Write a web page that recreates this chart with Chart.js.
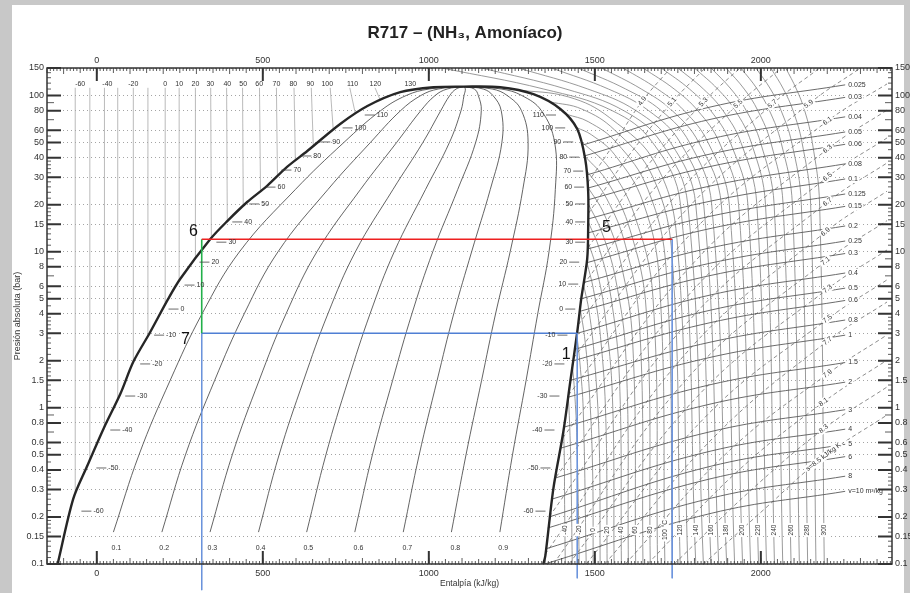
<!DOCTYPE html>
<html>
<head>
<meta charset="utf-8">
<script src="https://cdn.jsdelivr.net/npm/chart.js@4.4.1/dist/chart.umd.min.js"></script>
<style>
  html, body { margin: 0; padding: 0; background: #c8c8c8; }
</style>
</head>
<body>
<canvas id="ph" width="910" height="593"></canvas>
<script>
// axis ticks
const enthalpyTicks = [0, 500, 1000, 1500, 2000];
const pressureTicks = [0.1, 0.15, 0.2, 0.3, 0.4, 0.5, 0.6, 0.8, 1, 1.5, 2, 3, 4, 5, 6, 8, 10, 15, 20, 30, 40, 50, 60, 80, 100, 150];

// saturation dome [h kJ/kg, p bar]
const satLiquid = [[-118,0.1],[-71,0.261],[-30,0.419],[20,0.733],[71,1.23],[110,1.97],[161,3.06],[215,4.98],[251,6.68],[342,12.05],[393,15.7],[453,20.8],[513,26.4],[573,34.9],[634,44.1],[733,65.7],[815,85.6],[914,105],[1014,113],[1105,114]];
const satVapor = [[1215,113],[1315,102],[1396,82],[1447,61],[1471,39.2],[1480,24.1],[1480,14.6],[1477,8.98],[1459,4.98],[1447,3.06],[1426,1.47],[1405,0.70],[1375,0.303],[1351,0.113],[1345,0.1]];

// vapour quality lines
const qualityLevels = ['0.1','0.2','0.3','0.4','0.5','0.6','0.7','0.8','0.9'];
const qualityP = [0.16, 0.5, 1.5, 4, 10, 25, 50, 80, 100, 110, 114];
const qualityH = [
  [50,127,221,317,430,598,744,855,932,1001,1105],
  [196,267,355,444,546,696,824,915,976,1028,1105],
  [341,408,489,570,663,794,903,976,1019,1055,1105],
  [487,549,623,696,779,892,982,1036,1063,1082,1105],
  [632,690,757,823,896,990,1062,1097,1106,1110,1105],
  [777,830,891,949,1012,1087,1141,1158,1149,1137,1105],
  [923,971,1025,1075,1129,1185,1220,1218,1193,1164,1105],
  [1068,1112,1159,1201,1245,1283,1299,1279,1236,1191,1105],
  [1214,1252,1293,1328,1362,1381,1379,1339,1280,1218,1105]
];
const qualityLabelH = [59, 203, 348, 493, 637, 788, 935, 1080, 1224];

// liquid isotherms [T, h at dome, p at dome, h at top]
const liquidIsotherms = [[-60,-65,0.28,-65],[-50,-21,0.46,-21],[-40,23,0.76,23],[-30,63,1.15,63],[-20,110,1.97,110],[-10,154,2.9,154],[0,206,4.6,206],[10,248,6.5,248],[20,297,9.0,297],[30,345,12.2,343],[40,393,15.7,391],[50,441,19.8,439],[60,493,24.5,490],[70,544,30.7,541],[80,598,38.5,594],[90,652,48,646],[100,712,61,703],[110,779,76,762],[120,854,93,838]];
const liquidLabels = [[-60,-50],[-40,32],[-20,110],[0,206],[10,248],[20,297],[30,342],[40,393],[50,441],[60,489],[70,541],[80,592],[90,643],[100,694],[110,770],[120,839],[130,944]];

// superheated isotherms, subcritical part [T, [[h,p],...]]
const vaporIsotherms = [
  [-40, [[1411,0.1],[1409,0.24],[1408,0.48],[1406,0.717]]],
  [-30, [[1432,0.1],[1428,0.4],[1424,0.8],[1420,1.195]]],
  [-20, [[1453,0.1],[1446,0.63],[1439,1.27],[1432,1.9]]],
  [-10, [[1474,0.1],[1465,0.97],[1455,1.94],[1446,2.91]]],
  [0,   [[1495,0.1],[1493,0.43],[1482,1.43],[1469,2.86],[1456,4.29]]],
  [10,  [[1516,0.1],[1513,0.615],[1499,2.05],[1483,4.1],[1466,6.15]]],
  [20,  [[1537,0.1],[1533,0.857],[1517,2.86],[1496,5.71],[1476,8.57]]],
  [30,  [[1558,0.1],[1553,1.17],[1531,3.89],[1505,7.78],[1479,11.67]]],
  [40,  [[1580,0.1],[1574,1.55],[1548,5.18],[1514,10.37],[1480,15.55]]],
  [50,  [[1601,0.1],[1594,2.03],[1562,6.77],[1520,13.5],[1480,20.3]]],
  [60,  [[1623,0.1],[1614,2.61],[1577,8.7],[1528,17.4],[1478,26.1]]],
  [70,  [[1645,0.1],[1635,3.31],[1592,11],[1535,22],[1475,33.1]]],
  [80,  [[1667,0.1],[1655,4.14],[1606,13.8],[1540,27.6],[1468,41.4]]],
  [90,  [[1689,0.1],[1675,5.11],[1620,17],[1545,34],[1458,51.1]]],
  [100, [[1711,0.1],[1695,6.25],[1645,20.8],[1560,41.7],[1490,56],[1444,62.5]]],
  [110, [[1734,0.1],[1715,7.58],[1660,25],[1565,50],[1480,68],[1415,75.8]]],
  [120, [[1757,0.1],[1733,9.11],[1675,30],[1560,60],[1460,82],[1365,91.1]]],
  [130, [[1780,0.1],[1749,10.9],[1685,36],[1545,72],[1420,98],[1260,108.9]]]
];

// supercritical isotherms, h at superP
const superP = [0.1, 20, 50, 80, 110, 150];
const superT = [140,150,160,170,180,190,200,210,220,230,240,250,260,270,280,290,300];
const superH = [
  [1804,1758,1674,1552,1346,1040],
  [1827,1780,1700,1587,1413,1160],
  [1850,1804,1728,1624,1479,1270],
  [1873,1828,1757,1662,1541,1370],
  [1897,1852,1785,1700,1593,1450],
  [1921,1881,1813,1733,1640,1520],
  [1945,1905,1841,1769,1689,1585],
  [1969,1933,1875,1810,1739,1645],
  [1993,1961,1908,1849,1785,1700],
  [2017,1988,1940,1886,1827,1750],
  [2041,2014,1971,1923,1870,1800],
  [2066,2040,1999,1956,1910,1850],
  [2091,2067,2030,1991,1950,1895],
  [2116,2095,2061,2026,1989,1940],
  [2141,2122,2093,2061,2029,1985],
  [2166,2150,2124,2097,2068,2030],
  [2191,2177,2155,2132,2107,2075]
];

// isochores (m3/kg)
const isochoreV = ['0.025','0.03','0.04','0.05','0.06','0.08','0.1','0.125','0.15','0.2','0.25','0.3','0.4','0.5','0.6','0.8','1','1.5','2','3','4','5','6','8','v=10 m³/kg'];
const isochorePts = [
  [[1461,48],[1850,84.6],[2254,117]],
  [[1468,41],[1850,70.5],[2254,97.3]],
  [[1476,31],[1850,52.9],[2254,73]],
  [[1478,25.5],[1850,42.3],[2254,58.4]],
  [[1480,21.5],[1850,35.2],[2254,48.7]],
  [[1480,16.2],[1850,26.4],[2254,36.5]],
  [[1480,13.2],[1850,21.1],[2254,29.2]],
  [[1478,10.4],[1850,16.9],[2254,23.4]],
  [[1476,8.5],[1850,14.1],[2254,19.5]],
  [[1467,6.35],[1850,10.6],[2254,14.6]],
  [[1460,5.0],[1850,8.46],[2254,11.7]],
  [[1455,4.15],[1850,7.05],[2254,9.73]],
  [[1447,3.0],[1850,5.29],[2254,7.3]],
  [[1440,2.37],[1850,4.23],[2254,5.84]],
  [[1434,2.0],[1850,3.52],[2254,4.87]],
  [[1426,1.5],[1850,2.64],[2254,3.65]],
  [[1420,1.17],[1850,2.11],[2254,2.92]],
  [[1405,0.75],[1850,1.41],[2254,1.95]],
  [[1395,0.55],[1850,1.06],[2254,1.46]],
  [[1380,0.355],[1850,0.705],[2254,0.973]],
  [[1370,0.26],[1850,0.529],[2254,0.73]],
  [[1362,0.2],[1850,0.423],[2254,0.584]],
  [[1358,0.17],[1850,0.352],[2254,0.487]],
  [[1352,0.125],[1850,0.264],[2254,0.365]],
  [[1349,0.1],[1850,0.211],[2254,0.292]]
];

// isentropes (kJ/kg K), third point is where the label sits
const isentropeS = ['4.9','5.1','5.3','5.5','5.7','5.9','6.1','6.3','6.5','6.7','6.9','7.1','7.3','7.5','7.7','7.9','8.1','8.3','s=8.5 kJ/kg K'];
const isentropePts = [
  [[1478,27.5],[1560,49.9],[1643,92.2],[1728,150]],
  [[1480,17.5],[1600,40.6],[1733,90.8],[1832,150]],
  [[1479,10.6],[1650,33.7],[1827,90.8],[1937,150]],
  [[1466,6.15],[1700,28.6],[1932,88.2],[2062,150]],
  [[1450,3.4],[1740,22.4],[2035,88.2],[2177,150]],
  [[1435,2.07],[1780,19],[2144,88.2],[2300,150]],
  [[1420,1.2],[1800,13.8],[2201,68.7],[2380,118.6]],
  [[1403,0.64],[1800,8.6],[2201,45.4],[2380,80.7]],
  [[1383,0.36],[1790,5.5],[2201,30.1],[2380,53.5]],
  [[1362,0.2],[1780,3.54],[2201,20.8],[2380,37]],
  [[1350,0.115],[1770,2.18],[2195,13.4],[2380,24.4]],
  [[1375,0.1],[1785,1.6],[2195,8.7],[2380,15.8]],
  [[1422,0.1],[1810,1.19],[2201,5.77],[2380,10.25]],
  [[1474,0.1],[1840,0.906],[2201,3.71],[2380,6.6]],
  [[1530,0.1],[1865,0.67],[2201,2.68],[2380,4.76]],
  [[1592,0.1],[1900,0.52],[2201,1.65],[2380,2.93]],
  [[1659,0.1],[1925,0.384],[2189,1.09],[2380,2.02]],
  [[1739,0.1],[1965,0.29],[2189,0.733],[2380,1.36]],
  [[1827,0.1],[2010,0.224],[2189,0.485],[2380,0.9]]
];

// temperature labels next to the dome [T, h, p]
const domeLabelsLiquid = [[-60,5,0.218],[-50,50,0.412],[-40,92,0.721],[-30,137,1.19],[-20,182,1.91],[-10,224,2.92],[0,258,4.29],[10,312,6.11],[20,357,8.57],[30,408,11.5],[40,456,15.5],[50,507,20.2],[60,556,25.9],[70,604,33.3],[80,664,41],[90,721,50.4],[100,794,62],[110,860,75]];
const domeLabelsVapor = [[110,1330,75],[100,1357,62],[90,1387,50.4],[80,1405,40.3],[70,1417,32.8],[60,1420,25.9],[50,1423,20.2],[40,1423,15.5],[30,1423,11.5],[20,1405,8.57],[10,1402,6.2],[0,1399,4.29],[-10,1366,2.92],[-20,1357,1.91],[-30,1342,1.19],[-40,1327,0.721],[-50,1315,0.412],[-60,1300,0.218]];

// refrigeration cycle
const cycleCondenser = [[316,12.0],[1733,12.0]];
const cycleExpansion = [[316,12.0],[316,3.0]];
const cycleEvaporator = [[316,3.0],[1447,3.0]];
const cycleDrops = [
  [[316,3.0],[316,0.068]],
  [[1447,3.0],[1447,0.081]],
  [[1733,12.0],[1733,0.081]]
];
const cyclePoints = [['6',291,13.35],['5',1535,14.2],['7',267,2.72],['1',1414,2.18]];

const FONT = '"Liberation Sans", Arial, sans-serif';
const datasets = [];
function addLine(pts, color, width, extra) {
  datasets.push(Object.assign({
    data: pts.map(([h, p]) => ({x: h, y: p})),
    showLine: true, borderColor: color, borderWidth: width,
    pointRadius: 0, tension: 0.4, fill: false
  }, extra || {}));
}

liquidIsotherms.forEach(([t, hb, pb, ht]) => addLine([[hb, pb], [ht, 112]], '#a8a8a8', 0.8, {order: 9, tension: 0}));
vaporIsotherms.forEach(([t, pts]) => addLine(pts, '#808080', 0.8, {order: 8}));
superH.forEach(hs => addLine(hs.map((h, i) => [h, superP[i]]), '#808080', 0.8, {order: 8}));
isochorePts.forEach(pts => addLine(pts, '#5a5a5a', 0.9, {order: 7}));
isentropePts.forEach(pts => addLine(pts, '#707070', 0.8, {order: 7, borderDash: [4, 3]}));
qualityH.forEach(hs => addLine(hs.map((h, i) => [h, qualityP[i]]), '#3c3c3c', 0.8, {order: 6}));
addLine(satLiquid.concat(satVapor), '#262626', 2.4, {order: 3, tension: 0.3});
cycleDrops.forEach(pts => addLine(pts, '#6a93dc', 1, {order: 2, tension: 0, clip: false}));
addLine(cycleCondenser, '#ee2020', 1.6, {order: 1, tension: 0, clip: false});
addLine(cycleExpansion, '#22b04a', 1.6, {order: 1, tension: 0, clip: false});
addLine(cycleEvaporator, '#4f7fd4', 1.6, {order: 1, tension: 0, clip: false});

function txt(ctx, s, px, py, o) {
  o = o || {};
  ctx.save();
  ctx.font = o.font || ('7px ' + FONT);
  ctx.textAlign = o.align || 'center';
  ctx.textBaseline = 'middle';
  ctx.translate(px, py);
  if (o.rot) ctx.rotate(o.rot);
  const w = ctx.measureText(s).width;
  if (o.bg) {
    const x0 = o.align === 'left' ? 0 : o.align === 'right' ? -w : -w / 2;
    ctx.fillStyle = '#fff';
    ctx.fillRect(x0 - 1.5, -4, w + 3, 8);
  }
  ctx.fillStyle = o.color || '#333';
  ctx.fillText(s, 0, 0);
  ctx.restore();
  return w;
}

const background = {
  id: 'background',
  beforeDraw(chart) {
    const c = chart.ctx;
    c.save();
    c.fillStyle = '#c8c8c8';
    c.fillRect(0, 0, chart.width, chart.height);
    c.fillStyle = '#fff';
    c.fillRect(12, 5, 892, chart.height - 5);
    c.restore();
  }
};

const annotations = {
  id: 'annotations',
  afterDatasetsDraw(chart) {
    const {ctx, chartArea: a, scales: {x, y}} = chart;
    const X = h => x.getPixelForValue(h), Y = p => y.getPixelForValue(p);
    ctx.save();
    ctx.beginPath();
    ctx.rect(a.left, a.top, a.right - a.left, a.bottom - a.top);
    ctx.clip();
    ctx.strokeStyle = '#444';
    ctx.lineWidth = 0.8;

    liquidLabels.forEach(([t, h]) => txt(ctx, String(t), X(h), Y(118.6)));
    qualityLevels.forEach((q, i) => txt(ctx, q, X(qualityLabelH[i]), Y(0.126)));

    domeLabelsLiquid.forEach(([t, h, p]) => {
      ctx.font = '7px ' + FONT;
      const w = ctx.measureText(String(t)).width;
      const cx = X(h), cy = Y(p);
      ctx.beginPath(); ctx.moveTo(cx - w / 2 - 12, cy); ctx.lineTo(cx - w / 2 - 2, cy); ctx.stroke();
      txt(ctx, String(t), cx, cy);
    });
    domeLabelsVapor.forEach(([t, h, p]) => {
      ctx.font = '7px ' + FONT;
      const w = ctx.measureText(String(t)).width;
      const cx = X(h), cy = Y(p);
      ctx.beginPath(); ctx.moveTo(cx + w / 2 + 2, cy); ctx.lineTo(cx + w / 2 + 12, cy); ctx.stroke();
      txt(ctx, String(t), cx, cy);
    });

    vaporIsotherms.concat(superT.map((t, i) => [t, [[superH[i][0], 0.1]]])).forEach(([t, pts]) => {
      if (t % 20 !== 0) return;
      txt(ctx, t === 100 ? '100 °C' : String(t), X(pts[0][0]), Y(0.165), {rot: -Math.PI / 2, bg: true, font: '6.5px ' + FONT});
    });

    isentropePts.forEach((pts, i) => {
      const [h1, p1] = pts[1], [h2, p2] = pts[2], [h3, p3] = pts[3];
      const ang = Math.atan2(Y(p3) - Y(p1), X(h3) - X(h1));
      txt(ctx, isentropeS[i], X(h2), Y(p2), {rot: ang, bg: true});
    });
    isochorePts.forEach((pts, i) => {
      const [h, p] = pts[2];
      txt(ctx, isochoreV[i], X(h) + 3, Y(p), {align: 'left', bg: true});
    });
    ctx.restore();

    cyclePoints.forEach(([s, h, p]) => txt(ctx, s, X(h), Y(p), {font: '16px ' + FONT, color: '#111'}));

    // enthalpy labels, top and bottom
    enthalpyTicks.forEach(h => {
      txt(ctx, String(h), X(h), a.top - 7, {font: '9px ' + FONT});
      txt(ctx, String(h), X(h), a.bottom + 10, {font: '9px ' + FONT});
    });

    // frame and inner ticks
    ctx.save();
    ctx.strokeStyle = '#333';
    ctx.lineWidth = 1.5;
    ctx.strokeRect(a.left, a.top, a.right - a.left, a.bottom - a.top);
    ctx.lineWidth = 0.8;
    ctx.beginPath();
    for (let h = -150; h <= 2390; h += 10) {
      const px = X(h);
      const len = h % 100 === 0 ? 6 : h % 50 === 0 ? 5 : 3;
      ctx.moveTo(px, a.bottom); ctx.lineTo(px, a.bottom - len);
      ctx.moveTo(px, a.top); ctx.lineTo(px, a.top + len);
    }
    const mult = [1.1,1.2,1.3,1.4,1.6,1.7,1.8,1.9,2.2,2.4,2.6,2.8,3.2,3.4,3.6,3.8,4.5,5.5,7,9];
    [0.1, 1, 10, 100].forEach(d => mult.forEach(m => {
      const v = +(m * d).toPrecision(3);
      if (v > 150) return;
      const py = Y(v), len = (m === 7 || m === 9) ? 7 : 4;
      ctx.moveTo(a.left, py); ctx.lineTo(a.left + len, py);
      ctx.moveTo(a.right, py); ctx.lineTo(a.right - len, py);
    }));
    ctx.stroke();
    ctx.lineWidth = 2;
    ctx.beginPath();
    enthalpyTicks.forEach(h => {
      const px = X(h);
      ctx.moveTo(px, a.bottom); ctx.lineTo(px, a.bottom - 13);
      ctx.moveTo(px, a.top); ctx.lineTo(px, a.top + 13);
    });
    pressureTicks.forEach(v => {
      const py = Y(v);
      ctx.moveTo(a.left, py); ctx.lineTo(a.left + 14, py);
      ctx.moveTo(a.right, py); ctx.lineTo(a.right - 14, py);
    });
    ctx.stroke();
    ctx.restore();

    // title
    ctx.save();
    ctx.font = 'bold 17px ' + FONT;
    const title = 'R717 – (NH₃, Amoníaco)';
    const w = ctx.measureText(title).width;
    ctx.translate(465, 33);
    ctx.scale(195 / w, 1);
    ctx.textAlign = 'center';
    ctx.textBaseline = 'middle';
    ctx.fillStyle = '#222';
    ctx.fillText(title, 0, 0);
    ctx.restore();
  }
};

const xAxis = (pos, height) => ({
  type: 'linear', position: pos, min: -150, max: 2395,
  afterBuildTicks: s => { s.ticks = enthalpyTicks.map(v => ({value: v})); },
  afterFit: s => { s.height = height; },
  grid: {display: false},
  border: {display: false},
  ticks: {display: false}
});
const yAxis = (pos, width) => ({
  type: 'logarithmic', position: pos, min: 0.1, max: 150,
  afterBuildTicks: s => { s.ticks = pressureTicks.map(v => ({value: v})); },
  afterFit: s => { s.width = width; },
  grid: {display: pos === 'left', color: '#9a9a9a', lineWidth: 0.9, drawTicks: false},
  border: {display: false, dash: [1, 3]},
  ticks: {font: {size: 9, family: FONT}, color: '#333', padding: 3, autoSkip: false, callback: v => String(v)}
});

const scales = {
  x: xAxis('bottom', 29),
  x2: xAxis('top', 14),
  y: yAxis('left', 47),
  y2: yAxis('right', 18)
};
scales.x.title = {display: true, text: 'Entalpía (kJ/kg)', font: {size: 8.5, family: FONT}, color: '#333', padding: {top: 0, bottom: 4}};
scales.y.title = {display: true, text: 'Presión absoluta (bar)', font: {size: 9, family: FONT}, color: '#333', padding: {top: 12, bottom: 0}};

new Chart('ph', {
  type: 'scatter',
  data: {datasets: datasets},
  options: {
    responsive: false,
    animation: false,
    events: [],
    layout: {padding: {top: 54, left: 0, right: 0, bottom: 0}},
    plugins: {legend: {display: false}, tooltip: {enabled: false}, title: {display: false}},
    scales: scales
  },
  plugins: [background, annotations]
});
</script>
</body>
</html>
